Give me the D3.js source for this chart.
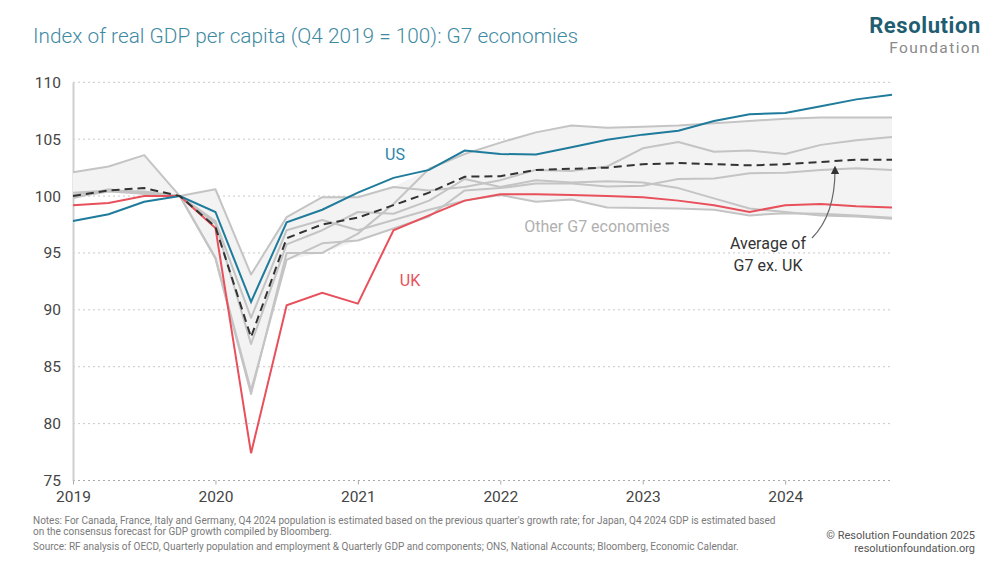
<!DOCTYPE html>
<html><head><meta charset="utf-8">
<script src="https://cdn.jsdelivr.net/npm/d3@7"></script>
<style>
body{margin:0;background:#fff;}
svg{display:block;font-family:Roboto,"Open Sans",sans-serif;}
</style></head>
<body><div id="chart"></div>
<script>
// quarters 2019 Q1 .. 2024 Q4 as decimal years
const quarters = d3.range(24).map(i => 2019 + i/4);
const yearTicks = [2019, 2020, 2021, 2022, 2023, 2024];
const yTicks = [75, 80, 85, 90, 95, 100, 105, 110];

const us = [97.8,98.4,99.5,100,98.6,90.7,97.7,98.8,100.3,101.6,102.3,104.0,103.7,103.65,104.3,104.95,105.4,105.75,106.6,107.2,107.3,107.9,108.5,108.9];
const uk = [99.2,99.4,100.0,100,97.2,77.4,90.4,91.5,90.55,97.0,98.3,99.6,100.15,100.15,100.1,100.0,99.9,99.6,99.2,98.6,99.2,99.3,99.1,99.0];
const avgExUK = [100.0,100.5,100.7,100,97.3,87.6,96.3,97.5,98.1,99.2,100.3,101.7,101.75,102.3,102.4,102.5,102.8,102.9,102.8,102.7,102.8,103.0,103.2,103.2];
const japan = [102.1,102.6,103.6,100,100.6,93.1,98.15,99.9,99.9,100.8,100.5,100.8,101.4,102.3,102.2,102.6,104.2,104.75,103.9,104.0,103.7,104.5,104.9,105.2];
const italy = [100.3,100.5,100.3,100,94.5,82.6,95.0,95.0,96.7,99.3,102.4,103.7,104.7,105.6,106.2,106.0,106.1,106.2,106.4,106.6,106.8,106.9,106.9,106.9];
const france = [100.1,100.5,100.4,100,94.6,82.9,94.4,95.85,96.1,97.15,98.2,100.5,100.7,101.1,101.1,100.85,100.9,101.5,101.55,102.0,102.05,102.3,102.45,102.3];
const canada = [99.8,100.6,100.2,100,97.6,87.0,95.75,97.0,98.6,98.45,99.6,101.5,100.8,101.4,101.2,101.3,101.2,100.7,99.8,98.9,98.6,98.3,98.2,98.0];
const germany = [99.9,100.4,100.2,100,97.8,89.3,97.0,97.9,97.0,97.9,98.8,99.6,100.1,99.5,99.7,99.0,98.95,98.9,98.8,98.3,98.5,98.45,98.3,98.1];
const others = [japan, italy, france, canada, germany];

const W = 1000, H = 563;
const svg = d3.select("#chart").append("svg").attr("width", W).attr("height", H);

const x = d3.scaleLinear().domain([2019, 2024.75]).range([73, 892]);
const y = d3.scaleLinear().domain([75, 110]).range([480.5, 82.3]);

// title
svg.append("text").attr("x", 33).attr("y", 43).attr("fill", "#3f8aa3")
  .attr("font-size", 20.8).attr("font-weight", 300)
  .text("Index of real GDP per capita (Q4 2019 = 100): G7 economies");

// logo
svg.append("text").attr("x", 981).attr("y", 33).attr("text-anchor", "end")
  .attr("fill", "#1f5d72").attr("font-size", 22).attr("font-weight", 700).attr("letter-spacing", 0.6)
  .text("Resolution");
svg.append("text").attr("x", 981).attr("y", 53).attr("text-anchor", "end")
  .attr("fill", "#8a8a8a").attr("font-size", 15.5).attr("font-weight", 400).attr("letter-spacing", 1.4)
  .text("Foundation");

// gridlines
svg.append("g").selectAll("line").data(yTicks).join("line")
  .attr("x1", 73).attr("x2", 892)
  .attr("y1", d => y(d)).attr("y2", d => y(d))
  .attr("stroke", d => d === 75 ? "#aaa" : "#c8c8c8").attr("stroke-width", 1)
  .attr("stroke-dasharray", "2,3");

// y axis
const yAxis = svg.append("g").attr("transform", "translate(73,0)")
  .call(d3.axisLeft(y).tickValues(yTicks).tickSize(0).tickPadding(12));
yAxis.select(".domain").attr("stroke", "#cfcfcf").attr("stroke-width", 2);
yAxis.selectAll("text").attr("font-size", 15.5).attr("fill", "#444").attr("font-family", "Roboto, sans-serif");

// x axis
const xAxis = svg.append("g").attr("transform", `translate(0,${y(75)})`)
  .call(d3.axisBottom(x).tickValues(yearTicks).tickFormat(d3.format("d")).tickSize(4).tickPadding(6));
xAxis.select(".domain").remove();
xAxis.selectAll("line").attr("stroke", "#aaa");
xAxis.selectAll("text").attr("font-size", 15.5).attr("fill", "#444").attr("font-family", "Roboto, sans-serif");

// band
const band = quarters.map((q, i) => ({q, lo: d3.min(others, s => s[i]), hi: d3.max(others, s => s[i])}));
svg.append("path").datum(band)
  .attr("fill", "#f3f3f3")
  .attr("d", d3.area().x(d => x(d.q)).y0(d => y(d.lo)).y1(d => y(d.hi)));

const line = d3.line().x((d, i) => x(quarters[i])).y(d => y(d));

svg.append("g").selectAll("path").data(others).join("path")
  .attr("fill", "none").attr("stroke", "#c4c4c4").attr("stroke-width", 2)
  .attr("stroke-linejoin", "round").attr("d", line);

svg.append("path").datum(uk).attr("fill", "none").attr("stroke", "#e8505b").attr("stroke-width", 2).attr("d", line);
svg.append("path").datum(us).attr("fill", "none").attr("stroke", "#1f7b9c").attr("stroke-width", 2).attr("d", line);
svg.append("path").datum(avgExUK).attr("fill", "none").attr("stroke", "#333").attr("stroke-width", 2)
  .attr("stroke-dasharray", "8,5").attr("d", line);

// labels
svg.append("text").attr("x", 395).attr("y", 160).attr("text-anchor", "middle").attr("fill", "#2a86a8").attr("font-size", 16).text("US");
svg.append("text").attr("x", 410).attr("y", 286).attr("text-anchor", "middle").attr("fill", "#e8505b").attr("font-size", 16).text("UK");
svg.append("text").attr("x", 597).attr("y", 232).attr("text-anchor", "middle").attr("fill", "#b0b0b0").attr("font-size", 16).text("Other G7 economies");
svg.append("text").attr("x", 768).attr("y", 249).attr("text-anchor", "middle").attr("fill", "#333").attr("font-size", 16).text("Average of");
svg.append("text").attr("x", 768).attr("y", 271).attr("text-anchor", "middle").attr("fill", "#333").attr("font-size", 16).text("G7 ex. UK");

// arrow
svg.append("defs").append("marker").attr("id", "ah").attr("viewBox", "0 0 10 10")
  .attr("refX", 5).attr("refY", 5).attr("markerWidth", 7).attr("markerHeight", 7).attr("orient", "auto-start-reverse")
  .append("path").attr("d", "M0,0 L10,5 L0,10 z").attr("fill", "#333");
svg.append("path").attr("d", "M812,238 Q835,215 835,170").attr("fill", "none")
  .attr("stroke", "#666").attr("stroke-width", 1.2).attr("marker-end", "url(#ah)");

// notes
const notes = [
  "Notes: For Canada, France, Italy and Germany, Q4 2024 population is estimated based on the previous quarter's growth rate; for Japan, Q4 2024 GDP is estimated based",
  "on the consensus forecast for GDP growth compiled by Bloomberg.",
  "Source: RF analysis of OECD, Quarterly population and employment & Quarterly GDP and components; ONS, National Accounts; Bloomberg, Economic Calendar."
];
svg.append("g").selectAll("text").data(notes).join("text")
  .attr("x", 33).attr("y", (d, i) => [524, 535, 550][i])
  .attr("fill", "#7a7a7a").attr("font-size", 10).text(d => d);
svg.append("text").attr("x", 975).attr("y", 539).attr("text-anchor", "end").attr("fill", "#555").attr("font-size", 11).text("© Resolution Foundation 2025");
svg.append("text").attr("x", 975).attr("y", 552).attr("text-anchor", "end").attr("fill", "#555").attr("font-size", 11).text("resolutionfoundation.org");
</script>
</body></html>
